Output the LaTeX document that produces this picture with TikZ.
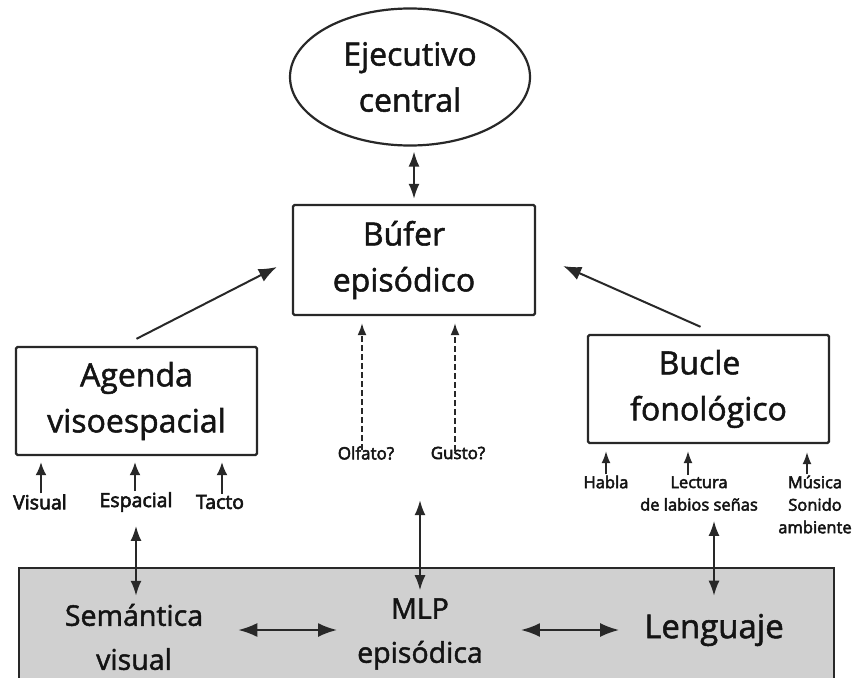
\documentclass[tikz,border=0pt]{standalone}
\usepackage{fontspec}
\setmainfont{Open Sans}[FakeBold=1.6]
\newfontfamily\smallfont{Open Sans}[FakeBold=3]
\usetikzlibrary{arrows.meta,shapes.geometric}
\definecolor{ln}{RGB}{40,40,40}
\definecolor{fillg}{RGB}{208,208,208}
\definecolor{txt}{RGB}{20,20,20}
\begin{document}
\begin{tikzpicture}[x=1pt,y=-1pt,
  big/.style={font=\fontsize{32}{46}\selectfont, align=center, text=txt},
  box/.style={draw=ln, line width=2.4pt, rounded corners=1.5pt, inner sep=0pt, big},
  lab/.style={font=\smallfont\fontsize{19.5}{23}\selectfont, inner sep=0pt, text=txt},
  slab/.style={font=\smallfont\fontsize{16.5}{22.5}\selectfont, inner sep=0pt, align=center, text=txt},
  olab/.style={font=\smallfont\fontsize{17}{20}\selectfont, inner sep=0pt, text=txt},
  arr/.style={draw=ln, line width=2pt, -{Latex[length=18pt,width=14pt]}},
  uarr/.style={draw=ln, line width=1.8pt, -{Latex[length=13pt,width=11pt]}},
  rarr/.style={draw=ln, line width=1.4pt, -{Latex[length=12pt,width=9pt]}},
  darr/.style={draw=ln, line width=1.6pt, dash pattern=on 6pt off 3pt, -{Latex[length=12pt,width=9pt]}},
  varr/.style={draw=ln, line width=1.8pt, {Latex[length=15pt,width=11pt]}-{Latex[length=15pt,width=11pt]}},
  harr/.style={draw=ln, line width=2pt, {Latex[length=19pt,width=14pt]}-{Latex[length=19pt,width=14pt]}},
]
\clip (0,0) rectangle (858,677);
\useasboundingbox (0,0) rectangle (858,677);

% bottom grey box
\node[draw=ln, fill=fillg, line width=2.4pt, minimum width=815, minimum height=160,
      anchor=north west, inner sep=0pt] (mlpbox) at (18,567) {};

% top elements
\node[ellipse, draw=ln, line width=2.2pt, minimum width=240, minimum height=137,
      inner sep=0pt, big] (ejec) at (410,77) {Ejecutivo\\central};
\node[box, minimum width=242, minimum height=110] (buf) at (414,260) {\hspace*{-20pt}Búfer\\\hspace*{-20pt}episódico};
\node[box, minimum width=241, minimum height=108] (agenda) at (136.5,401) {Agenda\\visoespacial};
\node[box, minimum width=241, minimum height=108] (bucle) at (708.5,389) {\hspace*{-18pt}Bucle\\fonológico};

% small labels left
\node[lab] (visual) at (40,502) {Visual};
\node[lab] (espacial) at (136,502) {Espacial};
\node[lab] (tacto) at (220,502) {Tacto};

% middle labels
\node[olab] (olfato) at (366,453) {Olfato?};
\node[olab] (gusto) at (458,453) {Gusto?};

% right labels
\node[slab] (habla) at (606,482) {Habla};
\node[slab] (lectura) at (699,493.5) {Lectura\\de labios señas};
\node[slab] (musica) at (815,504.5) {Música\\Sonido\\ambiente};

% bottom labels
\node[font=\fontsize{28.5}{44}\selectfont, align=center, inner sep=0pt, text=txt] (sem) at (134,637) {Semántica\\visual};
\node[font=\fontsize{28.5}{44}\selectfont, align=center, inner sep=0pt, text=txt] (mlp) at (420,634) {MLP\\episódica};
\node[font=\fontsize{33}{40}\selectfont, inner sep=0pt, text=txt] (leng) at (714,630) {Lenguaje};

% connectors top
\draw[varr, shorten <=5pt, shorten >=5pt] (ejec.south -| buf.north) -- (buf.north);
\draw[arr] ([yshift=7pt]agenda.north) -- ([xshift=-15pt,yshift=-7pt]buf.west);
\draw[arr] ([xshift=-8pt,yshift=7pt]bucle.north) -- ([xshift=27pt,yshift=-6pt]buf.east);

% left small arrows
\draw[uarr, shorten <=1pt, shorten >=6pt] ([xshift=1pt]visual.north) -- ([xshift=1pt]visual.north |- agenda.south);
\draw[uarr, shorten <=1pt, shorten >=6pt] ([xshift=-1pt]espacial.north) -- ([xshift=-1pt]espacial.north |- agenda.south);
\draw[uarr, shorten <=1pt, shorten >=6pt] ([xshift=2pt]tacto.north) -- ([xshift=2pt]tacto.north |- agenda.south);

% dashed arrows
\draw[darr, shorten >=7pt] ([xshift=-4pt,yshift=-4pt]olfato.north) -- ([xshift=-4pt]olfato.north |- buf.south);
\draw[darr, shorten >=7pt] ([xshift=-3pt,yshift=-4pt]gusto.north) -- ([xshift=-3pt]gusto.north |- buf.south);

% right small arrows
\draw[rarr, shorten <=1pt, shorten >=7pt] (habla.north) -- (habla.north |- bucle.south);
\draw[rarr, shorten <=1pt, shorten >=7pt] ([xshift=-11pt]lectura.north) -- ([xshift=-11pt]lectura.north |- bucle.south);
\draw[rarr, shorten <=1pt, shorten >=8pt] ([xshift=-8pt]musica.north) -- ([xshift=-8pt]musica.north |- bucle.south);

% vertical double arrows to grey box
\draw[varr, shorten <=14pt, shorten >=8pt] (espacial.south) -- (espacial.south |- sem.north);
\draw[varr] ([yshift=98pt]mlp.north) -- ([yshift=8pt]mlp.north);
\draw[varr, shorten <=10pt, shorten >=18pt] (lectura.south -| leng.north) -- (leng.north);

% horizontal double arrows
\draw[harr] ([xshift=35pt]sem.east |- leng.west) -- ([xshift=-20pt]mlp.west |- leng.west);
\draw[harr] ([xshift=38pt]mlp.east |- leng.west) -- ([xshift=-25pt]leng.west);
\end{tikzpicture}
\end{document}
